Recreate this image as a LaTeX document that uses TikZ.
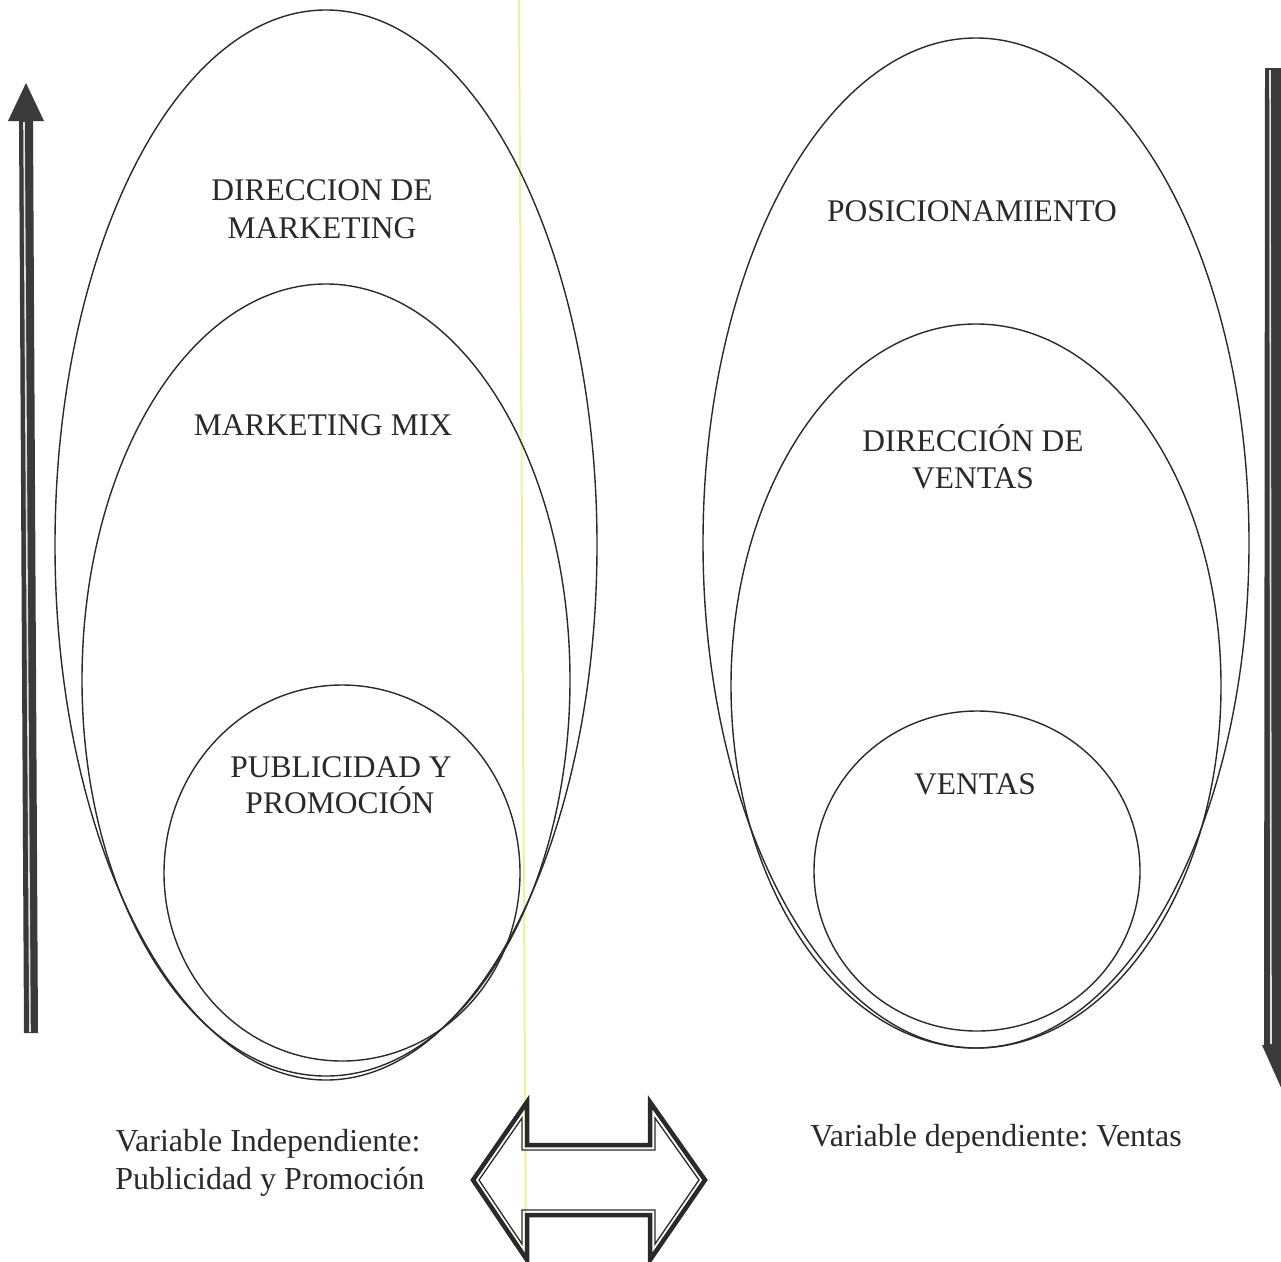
\documentclass[tikz,border=0pt]{standalone}
\usepackage{fontspec}
\setmainfont{Liberation Serif}
\definecolor{ink}{HTML}{2A2A2A}
\definecolor{arrowgray}{HTML}{3A3A3A}
\definecolor{scanyellow}{HTML}{F0F09A}
\frenchspacing
\begin{document}
\begin{tikzpicture}[x=1pt,y=-1pt,
  shapeline/.style={draw=ink, line width=1.4pt},
  lbl/.style={font=\fontsize{31.5}{38}\selectfont, text=ink, inner sep=0pt, anchor=base},
  lbls/.style={font=\fontsize{32}{38}\selectfont, text=ink, inner sep=0pt, anchor=base},
  bigarrow/.style={fill=arrowgray, draw=none},
  stripe/.style={draw=white!75!gray, line width=1.6pt},
  dblouter/.style={draw=ink, line width=4.5pt, line join=miter},
  dblinner/.style={draw=ink, line width=1.3pt, line join=miter}]
\useasboundingbox (0,0) rectangle (1281,1261);
\fill[white] (0,0) rectangle (1281,1261);

% scan line (behind everything)
\draw[scanyellow, line width=2pt] (519,0) -- (526,1261);

% left group
\draw[shapeline] (326,545) ellipse [x radius=271pt, y radius=535pt];
\draw[shapeline] (326,680) ellipse [x radius=244pt, y radius=396pt];
\draw[shapeline] (342,873) ellipse [x radius=178pt, y radius=188pt];

% right group
\draw[shapeline] (976,543) ellipse [x radius=273pt, y radius=505pt];
\draw[shapeline] (976,686) ellipse [x radius=245pt, y radius=362pt];
\draw[shapeline] (977,871) ellipse [x radius=163pt, y radius=160pt];

% left upward arrow
\fill[bigarrow] (19,120) -- (33,120) -- (38,1033) -- (24,1033) -- cycle;
\fill[bigarrow] (26,83) -- (44,121) -- (8,121) -- cycle;
\draw[stripe] (24,122) -- (30,1032);

% right downward arrow
\fill[bigarrow] (1265,68) -- (1284,68) -- (1284,1046) -- (1264,1046) -- cycle;
\fill[bigarrow] (1262,1045) -- (1304,1045) -- (1283,1092) -- cycle;
\draw[stripe] (1270,70) -- (1271,1044);

% double-headed block arrow
\draw[dblouter] (473,1180) -- (527,1102) -- (527,1145) -- (650,1145) -- (650,1102)
  -- (705,1180) -- (650,1260) -- (650,1215) -- (527,1215) -- (527,1260) -- cycle;
\draw[dblinner] (479,1180) -- (522,1118) -- (522,1150) -- (655,1150) -- (655,1118)
  -- (699,1180) -- (655,1244) -- (655,1210) -- (522,1210) -- (522,1244) -- cycle;

% labels
\node[lbl] (dm1) at (322,200) {DIRECCION DE};
\node[lbl] (dm2) at (322,238) {MARKETING};
\node[lbl] (mm) at (323,435) {MARKETING MIX};
\node[lbl] (pp1) at (341,777) {PUBLICIDAD Y};
\node[lbl] (pp2) at (340,813) {PROMOCIÓN};
\node[lbl] (pos) at (972,221) {POSICIONAMIENTO};
\node[lbl] (dv1) at (973,451) {DIRECCIÓN DE};
\node[lbl] (dv2) at (973,488) {VENTAS};
\node[lbl] (ven) at (975,794) {VENTAS};
\node[lbls] (vi1) at (268,1151) {Variable Independiente:};
\node[lbls] (vi2) at (270,1189) {Publicidad y Promoción};
\node[lbls] (vd) at (996,1146) {Variable dependiente: Ventas};
\end{tikzpicture}
\end{document}
